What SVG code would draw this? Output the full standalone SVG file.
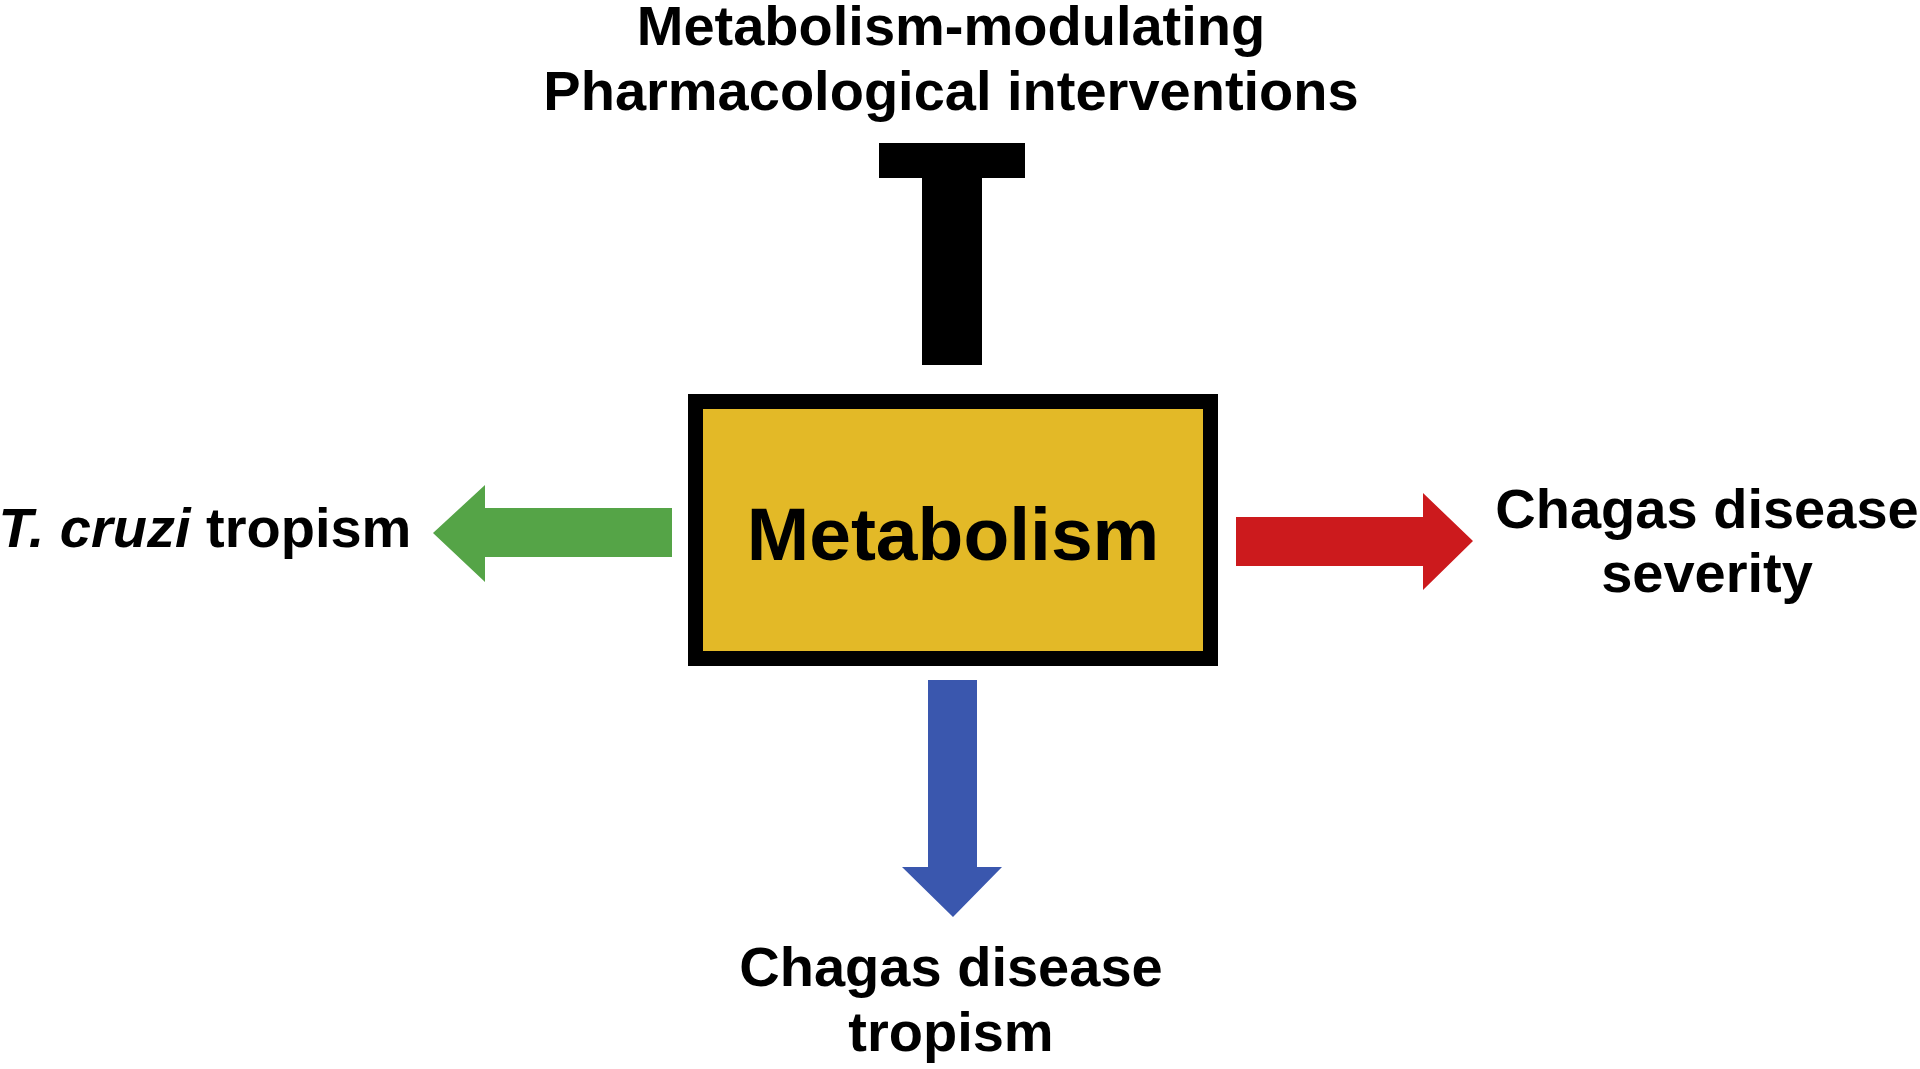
<svg xmlns="http://www.w3.org/2000/svg" width="1920" height="1069" viewBox="0 0 1920 1069">
<style>
.t{font-family:"Liberation Sans",Arial,sans-serif;font-weight:bold;fill:#000;text-anchor:middle}
.l{font-size:56px}
</style>
<rect width="1920" height="1069" fill="#fff"/>
<g id="node-interventions">
<text class="t l" x="951" y="45">Metabolism-modulating</text>
<text class="t l" x="951" y="110">Pharmacological interventions</text>
</g>
<g id="node-metabolism">
<rect x="695.5" y="401.5" width="515" height="257" fill="#E3B927" stroke="#000" stroke-width="15"/>
<text class="t" x="953" y="560" font-size="75">Metabolism</text>
</g>
<g id="node-tcruzi">
<text class="t l" x="205" y="547"><tspan font-style="italic">T. cruzi</tspan> tropism</text>
</g>
<g id="node-severity">
<text class="t l" x="1707" y="528">Chagas disease</text>
<text class="t l" x="1707" y="592">severity</text>
</g>
<g id="node-disease-tropism">
<text class="t l" x="951" y="986">Chagas disease</text>
<text class="t l" x="951" y="1051">tropism</text>
</g>
<g id="connectors">
<path id="inhibit" d="M879 143H1025V178H982V365H922V178H879Z" fill="#000"/>
<path id="arrow-left" d="M672 508V557H485V582L433 533L485 485V508Z" fill="#55A447"/>
<path id="arrow-right" d="M1236 517H1423V493L1473 541L1423 590V566H1236Z" fill="#CC1A1D"/>
<path id="arrow-down" d="M928 680H977V867H1002L953 917L902 867H928Z" fill="#3A57AE"/>
</g>
</svg>
